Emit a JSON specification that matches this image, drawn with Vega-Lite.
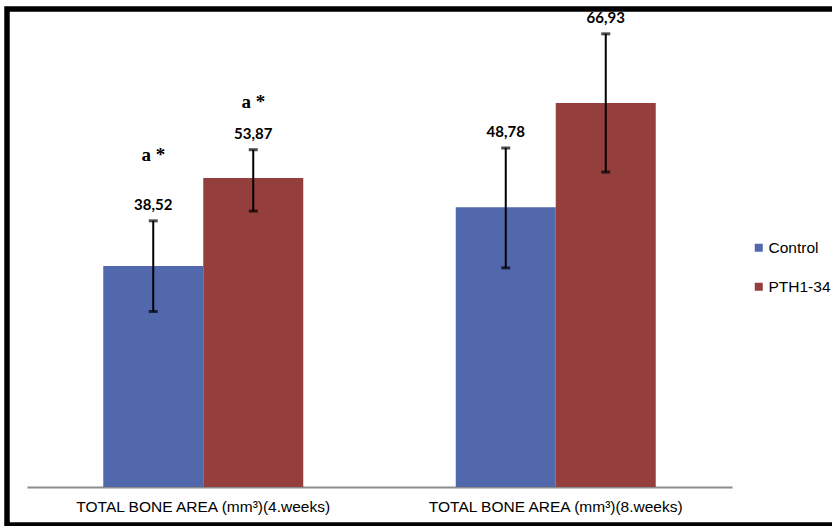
{
  "$schema": "https://vega.github.io/schema/vega-lite/v6.json",
  "width": 825,
  "height": 516,
  "autosize": {"type": "none"},
  "padding": {"left": 7, "top": 9, "right": 0, "bottom": 1},
  "background": "white",
  "config": {"view": {"stroke": null}},
  "data": {
    "values": [
      {"period": "TOTAL BONE AREA (mm³)(4.weeks)", "group": "Control", "mean": 38.52, "lo": 30.6, "hi": 46.4, "label": "38,52", "sig": "a *"},
      {"period": "TOTAL BONE AREA (mm³)(4.weeks)", "group": "PTH1-34", "mean": 53.87, "lo": 48.1, "hi": 58.8, "label": "53,87", "sig": "a *"},
      {"period": "TOTAL BONE AREA (mm³)(8.weeks)", "group": "Control", "mean": 48.78, "lo": 38.2, "hi": 59.1, "label": "48,78", "sig": ""},
      {"period": "TOTAL BONE AREA (mm³)(8.weeks)", "group": "PTH1-34", "mean": 66.93, "lo": 54.9, "hi": 79.0, "label": "66,93", "sig": ""}
    ]
  },
  "layer": [
    {
      "encoding": {
        "x": {
          "field": "period", "type": "nominal", "sort": null,
          "scale": {"range": [20, 725], "paddingInner": 0, "paddingOuter": 0},
          "axis": {
            "title": null, "orient": "bottom", "offset": -38, "domainColor": "#8c8c8c", "domainWidth": 2,
            "ticks": false, "labelAngle": 0, "labelPadding": 12, "labelFont": "Liberation Sans",
            "labelFontSize": 15.5, "labelColor": "black", "labelLimit": 0
          }
        },
        "xOffset": {"field": "group", "type": "nominal", "sort": ["Control", "PTH1-34"], "scale": {"paddingInner": 0, "paddingOuter": 0.7625}}
      },
      "layer": [
        {
          "mark": {"type": "bar"},
          "encoding": {
            "y": {"field": "mean", "type": "quantitative", "scale": {"domain": [-6.625, 83.33], "nice": false, "zero": false}, "axis": null},
            "y2": {"datum": 0},
            "color": {
              "field": "group", "type": "nominal",
              "scale": {"domain": ["Control", "PTH1-34"], "range": ["#5268AD", "#943F3E"]},
              "legend": {
                "title": null, "orient": "none", "legendX": 744, "legendY": 231,
                "symbolType": "square", "symbolSize": 64, "symbolStrokeWidth": 0,
                "labelFont": "Liberation Sans", "labelFontSize": 15.5, "labelColor": "black",
                "labelOffset": 2, "rowPadding": 22, "labelLimit": 0
              }
            }
          }
        },
        {
          "mark": {"type": "rule", "color": "black", "strokeWidth": 2},
          "encoding": {
            "y": {"field": "lo", "type": "quantitative"},
            "y2": {"field": "hi"}
          }
        },
        {
          "mark": {"type": "tick", "color": "black", "size": 9, "thickness": 3, "orient": "horizontal"},
          "encoding": {"y": {"field": "lo", "type": "quantitative"}}
        },
        {
          "mark": {"type": "tick", "color": "black", "size": 9, "thickness": 3, "orient": "horizontal"},
          "encoding": {"y": {"field": "hi", "type": "quantitative"}}
        },
        {
          "mark": {"type": "text", "font": "Lato", "fontWeight": "bold", "fontSize": 15, "color": "black", "baseline": "middle", "dy": -16},
          "encoding": {"y": {"field": "hi", "type": "quantitative"}, "text": {"field": "label"}}
        },
        {
          "transform": [{"filter": "datum.group == 'Control'"}],
          "mark": {"type": "text", "font": "Liberation Serif", "fontWeight": "bold", "fontSize": 19, "color": "black", "baseline": "middle", "dy": -66},
          "encoding": {"y": {"field": "hi", "type": "quantitative"}, "text": {"field": "sig"}}
        },
        {
          "transform": [{"filter": "datum.group == 'PTH1-34'"}],
          "mark": {"type": "text", "font": "Liberation Serif", "fontWeight": "bold", "fontSize": 19, "color": "black", "baseline": "middle", "dy": -48},
          "encoding": {"y": {"field": "hi", "type": "quantitative"}, "text": {"field": "sig"}}
        }
      ]
    },
    {
      "data": {"values": [{"frame": 1}]},
      "mark": {"type": "rect", "fill": null, "fillOpacity": 0, "stroke": "black", "strokeWidth": 5.5, "clip": false},
      "encoding": {
        "x": {"datum": 0, "type": "quantitative", "scale": {"domain": [0, 1], "nice": false, "zero": false}, "axis": null},
        "x2": {"datum": 1.03},
        "y": {"datum": -6.625, "type": "quantitative"},
        "y2": {"datum": 83.33}
      }
    }
  ],
  "resolve": {"scale": {"x": "independent"}}
}
